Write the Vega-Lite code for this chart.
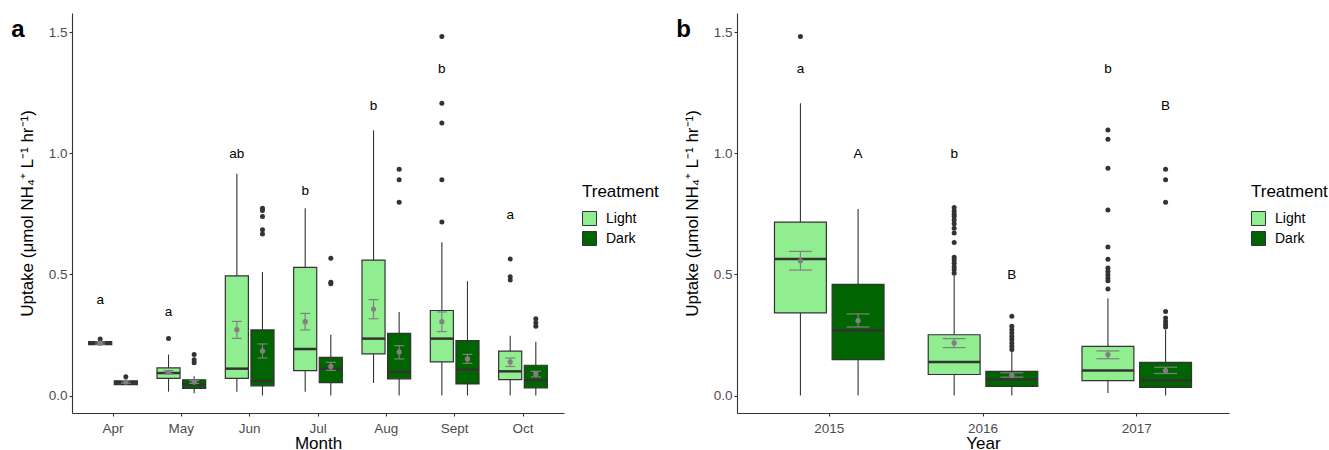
{
  "$schema": "https://vega.github.io/schema/vega-lite/v6.json",
  "background": "white",
  "padding": {"left": 11, "top": 13, "right": 0, "bottom": 0},
  "datasets": {
    "boxA": [
      {"Month": "Apr", "Treatment": "Light", "lower": 0.210, "q1": 0.210, "median": 0.217, "q3": 0.223, "upper": 0.223, "mean": 0.216, "se_lo": 0.212, "se_hi": 0.221},
      {"Month": "Apr", "Treatment": "Dark", "lower": 0.045, "q1": 0.045, "median": 0.055, "q3": 0.061, "upper": 0.061, "mean": 0.056, "se_lo": 0.051, "se_hi": 0.062},
      {"Month": "May", "Treatment": "Light", "lower": 0.016, "q1": 0.071, "median": 0.093, "q3": 0.114, "upper": 0.169, "mean": 0.096, "se_lo": 0.089, "se_hi": 0.103},
      {"Month": "May", "Treatment": "Dark", "lower": 0.010, "q1": 0.030, "median": 0.045, "q3": 0.065, "upper": 0.080, "mean": 0.056, "se_lo": 0.050, "se_hi": 0.062},
      {"Month": "Jun", "Treatment": "Light", "lower": 0.016, "q1": 0.071, "median": 0.111, "q3": 0.494, "upper": 0.915, "mean": 0.272, "se_lo": 0.236, "se_hi": 0.306},
      {"Month": "Jun", "Treatment": "Dark", "lower": 0.000, "q1": 0.040, "median": 0.060, "q3": 0.271, "upper": 0.510, "mean": 0.184, "se_lo": 0.155, "se_hi": 0.213},
      {"Month": "Jul", "Treatment": "Light", "lower": 0.016, "q1": 0.103, "median": 0.192, "q3": 0.529, "upper": 0.773, "mean": 0.305, "se_lo": 0.271, "se_hi": 0.339},
      {"Month": "Jul", "Treatment": "Dark", "lower": 0.000, "q1": 0.053, "median": 0.111, "q3": 0.158, "upper": 0.251, "mean": 0.120, "se_lo": 0.104, "se_hi": 0.137},
      {"Month": "Aug", "Treatment": "Light", "lower": 0.052, "q1": 0.172, "median": 0.235, "q3": 0.559, "upper": 1.095, "mean": 0.357, "se_lo": 0.317, "se_hi": 0.396},
      {"Month": "Aug", "Treatment": "Dark", "lower": 0.000, "q1": 0.069, "median": 0.098, "q3": 0.257, "upper": 0.345, "mean": 0.180, "se_lo": 0.151, "se_hi": 0.206},
      {"Month": "Sept", "Treatment": "Light", "lower": 0.000, "q1": 0.139, "median": 0.235, "q3": 0.351, "upper": 0.633, "mean": 0.305, "se_lo": 0.264, "se_hi": 0.345},
      {"Month": "Sept", "Treatment": "Dark", "lower": 0.000, "q1": 0.048, "median": 0.107, "q3": 0.227, "upper": 0.472, "mean": 0.151, "se_lo": 0.133, "se_hi": 0.170},
      {"Month": "Oct", "Treatment": "Light", "lower": 0.000, "q1": 0.066, "median": 0.100, "q3": 0.183, "upper": 0.247, "mean": 0.139, "se_lo": 0.120, "se_hi": 0.155},
      {"Month": "Oct", "Treatment": "Dark", "lower": 0.000, "q1": 0.032, "median": 0.063, "q3": 0.125, "upper": 0.222, "mean": 0.089, "se_lo": 0.077, "se_hi": 0.100}
    ],
    "outA": [
      {"Month": "Apr", "Treatment": "Light", "value": 0.233},
      {"Month": "Apr", "Treatment": "Dark", "value": 0.078},
      {"Month": "May", "Treatment": "Light", "value": 0.235},
      {"Month": "May", "Treatment": "Dark", "value": 0.169},
      {"Month": "May", "Treatment": "Dark", "value": 0.148},
      {"Month": "May", "Treatment": "Dark", "value": 0.135},
      {"Month": "Jun", "Treatment": "Dark", "value": 0.773},
      {"Month": "Jun", "Treatment": "Dark", "value": 0.764},
      {"Month": "Jun", "Treatment": "Dark", "value": 0.739},
      {"Month": "Jun", "Treatment": "Dark", "value": 0.684},
      {"Month": "Jun", "Treatment": "Dark", "value": 0.667},
      {"Month": "Jul", "Treatment": "Dark", "value": 0.567},
      {"Month": "Jul", "Treatment": "Dark", "value": 0.468},
      {"Month": "Jul", "Treatment": "Dark", "value": 0.461},
      {"Month": "Aug", "Treatment": "Dark", "value": 0.934},
      {"Month": "Aug", "Treatment": "Dark", "value": 0.891},
      {"Month": "Aug", "Treatment": "Dark", "value": 0.798},
      {"Month": "Sept", "Treatment": "Light", "value": 1.482},
      {"Month": "Sept", "Treatment": "Light", "value": 1.207},
      {"Month": "Sept", "Treatment": "Light", "value": 1.125},
      {"Month": "Sept", "Treatment": "Light", "value": 0.891},
      {"Month": "Sept", "Treatment": "Light", "value": 0.716},
      {"Month": "Oct", "Treatment": "Light", "value": 0.564},
      {"Month": "Oct", "Treatment": "Light", "value": 0.490},
      {"Month": "Oct", "Treatment": "Light", "value": 0.477},
      {"Month": "Oct", "Treatment": "Dark", "value": 0.317},
      {"Month": "Oct", "Treatment": "Dark", "value": 0.300},
      {"Month": "Oct", "Treatment": "Dark", "value": 0.286}
    ],
    "lettersA": [
      {"Month": "Apr", "Treatment": "Light", "pos": 0.396, "label": "a"},
      {"Month": "May", "Treatment": "Light", "pos": 0.345, "label": "a"},
      {"Month": "Jun", "Treatment": "Light", "pos": 0.998, "label": "ab"},
      {"Month": "Jul", "Treatment": "Light", "pos": 0.844, "label": "b"},
      {"Month": "Aug", "Treatment": "Light", "pos": 1.195, "label": "b"},
      {"Month": "Sept", "Treatment": "Light", "pos": 1.346, "label": "b"},
      {"Month": "Oct", "Treatment": "Light", "pos": 0.746, "label": "a"}
    ],
    "boxB": [
      {"Year": "2015", "Treatment": "Light", "lower": 0.000, "q1": 0.341, "median": 0.564, "q3": 0.716, "upper": 1.206, "mean": 0.556, "se_lo": 0.518, "se_hi": 0.595},
      {"Year": "2015", "Treatment": "Dark", "lower": 0.000, "q1": 0.148, "median": 0.269, "q3": 0.459, "upper": 0.770, "mean": 0.309, "se_lo": 0.283, "se_hi": 0.337},
      {"Year": "2016", "Treatment": "Light", "lower": 0.000, "q1": 0.087, "median": 0.139, "q3": 0.251, "upper": 0.495, "mean": 0.217, "se_lo": 0.198, "se_hi": 0.235},
      {"Year": "2016", "Treatment": "Dark", "lower": 0.000, "q1": 0.038, "median": 0.066, "q3": 0.100, "upper": 0.183, "mean": 0.084, "se_lo": 0.076, "se_hi": 0.094},
      {"Year": "2017", "Treatment": "Light", "lower": 0.011, "q1": 0.062, "median": 0.103, "q3": 0.203, "upper": 0.402, "mean": 0.169, "se_lo": 0.152, "se_hi": 0.184},
      {"Year": "2017", "Treatment": "Dark", "lower": 0.000, "q1": 0.034, "median": 0.063, "q3": 0.137, "upper": 0.272, "mean": 0.103, "se_lo": 0.091, "se_hi": 0.117}
    ],
    "outB": [
      {"Year": "2015", "Treatment": "Light", "value": 1.482},
      {"Year": "2016", "Treatment": "Light", "value": 0.776},
      {"Year": "2016", "Treatment": "Light", "value": 0.762},
      {"Year": "2016", "Treatment": "Light", "value": 0.748},
      {"Year": "2016", "Treatment": "Light", "value": 0.739},
      {"Year": "2016", "Treatment": "Light", "value": 0.725},
      {"Year": "2016", "Treatment": "Light", "value": 0.709},
      {"Year": "2016", "Treatment": "Light", "value": 0.691},
      {"Year": "2016", "Treatment": "Light", "value": 0.671},
      {"Year": "2016", "Treatment": "Light", "value": 0.632},
      {"Year": "2016", "Treatment": "Light", "value": 0.571},
      {"Year": "2016", "Treatment": "Light", "value": 0.560},
      {"Year": "2016", "Treatment": "Light", "value": 0.546},
      {"Year": "2016", "Treatment": "Light", "value": 0.532},
      {"Year": "2016", "Treatment": "Light", "value": 0.519},
      {"Year": "2016", "Treatment": "Light", "value": 0.505},
      {"Year": "2016", "Treatment": "Dark", "value": 0.327},
      {"Year": "2016", "Treatment": "Dark", "value": 0.286},
      {"Year": "2016", "Treatment": "Dark", "value": 0.272},
      {"Year": "2016", "Treatment": "Dark", "value": 0.258},
      {"Year": "2016", "Treatment": "Dark", "value": 0.244},
      {"Year": "2016", "Treatment": "Dark", "value": 0.231},
      {"Year": "2016", "Treatment": "Dark", "value": 0.217},
      {"Year": "2016", "Treatment": "Dark", "value": 0.203},
      {"Year": "2016", "Treatment": "Dark", "value": 0.190},
      {"Year": "2017", "Treatment": "Light", "value": 1.096},
      {"Year": "2017", "Treatment": "Light", "value": 1.058},
      {"Year": "2017", "Treatment": "Light", "value": 0.938},
      {"Year": "2017", "Treatment": "Light", "value": 0.766},
      {"Year": "2017", "Treatment": "Light", "value": 0.613},
      {"Year": "2017", "Treatment": "Light", "value": 0.563},
      {"Year": "2017", "Treatment": "Light", "value": 0.526},
      {"Year": "2017", "Treatment": "Light", "value": 0.512},
      {"Year": "2017", "Treatment": "Light", "value": 0.499},
      {"Year": "2017", "Treatment": "Light", "value": 0.485},
      {"Year": "2017", "Treatment": "Light", "value": 0.474},
      {"Year": "2017", "Treatment": "Light", "value": 0.440},
      {"Year": "2017", "Treatment": "Dark", "value": 0.934},
      {"Year": "2017", "Treatment": "Dark", "value": 0.891},
      {"Year": "2017", "Treatment": "Dark", "value": 0.798},
      {"Year": "2017", "Treatment": "Dark", "value": 0.347},
      {"Year": "2017", "Treatment": "Dark", "value": 0.320},
      {"Year": "2017", "Treatment": "Dark", "value": 0.306},
      {"Year": "2017", "Treatment": "Dark", "value": 0.293},
      {"Year": "2017", "Treatment": "Dark", "value": 0.283}
    ],
    "lettersB": [
      {"Year": "2015", "Treatment": "Light", "pos": 1.346, "label": "a"},
      {"Year": "2015", "Treatment": "Dark", "pos": 0.997, "label": "A"},
      {"Year": "2016", "Treatment": "Light", "pos": 0.997, "label": "b"},
      {"Year": "2016", "Treatment": "Dark", "pos": 0.496, "label": "B"},
      {"Year": "2017", "Treatment": "Light", "pos": 1.346, "label": "b"},
      {"Year": "2017", "Treatment": "Dark", "pos": 1.195, "label": "B"}
    ]
  },
  "hconcat": [
    {
      "width": 492,
      "height": 400,
      "title": {"text": "a", "fontSize": 24, "fontWeight": "bold", "font": "Liberation Sans", "color": "black", "anchor": "start", "frame": "bounds", "offset": -48, "dx": -7, "baseline": "alphabetic"},
      "encoding": {
        "x": {"field": "Month", "type": "nominal", "sort": ["Apr", "May", "Jun", "Jul", "Aug", "Sept", "Oct"], "scale": {"paddingInner": 0.25, "paddingOuter": 0.225}, "axis": {"title": "Month", "labelAngle": 0}},
        "xOffset": {"field": "Treatment", "type": "nominal", "sort": ["Light", "Dark"], "scale": {"domain": ["Light", "Dark"], "paddingInner": 0.1, "paddingOuter": 0.05}}
      },
      "layer": [
        {"data": {"name": "boxA"}, "mark": {"type": "rule", "color": "#333333", "strokeWidth": 1.1},
         "encoding": {"y": {"field": "lower", "type": "quantitative", "scale": {"domain": [-0.072, 1.579], "nice": false, "zero": false}, "axis": {"title": "Uptake (μmol NH₄⁺ L⁻¹ hr⁻¹)", "values": [0, 0.5, 1, 1.5], "format": ".1f"}}, "y2": {"field": "upper"}}},
        {"data": {"name": "boxA"}, "mark": {"type": "bar", "stroke": "#333333", "strokeWidth": 1.2},
         "encoding": {"y": {"field": "q1", "type": "quantitative"}, "y2": {"field": "q3"},
           "color": {"field": "Treatment", "type": "nominal", "scale": {"domain": ["Light", "Dark"], "range": ["#90EE90", "#006400"]},
             "legend": {"orient": "none", "legendX": 510, "legendY": 171, "title": "Treatment"}}}},
        {"data": {"name": "boxA"}, "mark": {"type": "tick", "color": "#333333", "thickness": 2.5, "size": 23, "opacity": 1},
         "encoding": {"y": {"field": "median", "type": "quantitative"}}},
        {"data": {"name": "outA"}, "mark": {"type": "circle", "color": "#333333", "size": 25, "opacity": 1},
         "encoding": {"y": {"field": "value", "type": "quantitative"}}},
        {"data": {"name": "boxA"}, "mark": {"type": "rule", "color": "#808080", "strokeWidth": 1.2},
         "encoding": {"y": {"field": "se_lo", "type": "quantitative"}, "y2": {"field": "se_hi"}}},
        {"data": {"name": "boxA"}, "mark": {"type": "tick", "color": "#808080", "thickness": 1.2, "size": 10, "opacity": 1},
         "encoding": {"y": {"field": "se_lo", "type": "quantitative"}}},
        {"data": {"name": "boxA"}, "mark": {"type": "tick", "color": "#808080", "thickness": 1.2, "size": 10, "opacity": 1},
         "encoding": {"y": {"field": "se_hi", "type": "quantitative"}}},
        {"data": {"name": "boxA"}, "mark": {"type": "circle", "color": "#808080", "size": 28, "opacity": 1},
         "encoding": {"y": {"field": "mean", "type": "quantitative"}}},
        {"data": {"name": "lettersA"}, "mark": {"type": "text", "font": "Liberation Sans", "fontSize": 13.5, "color": "black", "baseline": "middle", "align": "center"},
         "encoding": {"y": {"field": "pos", "type": "quantitative"}, "text": {"field": "label"}}}
      ]
    },
    {
      "width": 492,
      "height": 400,
      "title": {"text": "b", "fontSize": 24, "fontWeight": "bold", "font": "Liberation Sans", "color": "black", "anchor": "start", "frame": "bounds", "offset": -48, "dx": -7, "baseline": "alphabetic"},
      "encoding": {
        "x": {"field": "Year", "type": "nominal", "sort": ["2015", "2016", "2017"], "scale": {"paddingInner": 0.25, "paddingOuter": 0.225}, "axis": {"title": "Year", "labelAngle": 0}},
        "xOffset": {"field": "Treatment", "type": "nominal", "sort": ["Light", "Dark"], "scale": {"domain": ["Light", "Dark"], "paddingInner": 0.1, "paddingOuter": 0.05}}
      },
      "layer": [
        {"data": {"name": "boxB"}, "mark": {"type": "rule", "color": "#333333", "strokeWidth": 1.1},
         "encoding": {"y": {"field": "lower", "type": "quantitative", "scale": {"domain": [-0.072, 1.579], "nice": false, "zero": false}, "axis": {"title": "Uptake (μmol NH₄⁺ L⁻¹ hr⁻¹)", "values": [0, 0.5, 1, 1.5], "format": ".1f"}}, "y2": {"field": "upper"}}},
        {"data": {"name": "boxB"}, "mark": {"type": "bar", "stroke": "#333333", "strokeWidth": 1.2},
         "encoding": {"y": {"field": "q1", "type": "quantitative"}, "y2": {"field": "q3"},
           "color": {"field": "Treatment", "type": "nominal", "scale": {"domain": ["Light", "Dark"], "range": ["#90EE90", "#006400"]},
             "legend": {"orient": "none", "legendX": 514, "legendY": 171, "title": "Treatment"}}}},
        {"data": {"name": "boxB"}, "mark": {"type": "tick", "color": "#333333", "thickness": 2.5, "size": 52, "opacity": 1},
         "encoding": {"y": {"field": "median", "type": "quantitative"}}},
        {"data": {"name": "outB"}, "mark": {"type": "circle", "color": "#333333", "size": 25, "opacity": 1},
         "encoding": {"y": {"field": "value", "type": "quantitative"}}},
        {"data": {"name": "boxB"}, "mark": {"type": "rule", "color": "#808080", "strokeWidth": 1.2},
         "encoding": {"y": {"field": "se_lo", "type": "quantitative"}, "y2": {"field": "se_hi"}}},
        {"data": {"name": "boxB"}, "mark": {"type": "tick", "color": "#808080", "thickness": 1.2, "size": 23, "opacity": 1},
         "encoding": {"y": {"field": "se_lo", "type": "quantitative"}}},
        {"data": {"name": "boxB"}, "mark": {"type": "tick", "color": "#808080", "thickness": 1.2, "size": 23, "opacity": 1},
         "encoding": {"y": {"field": "se_hi", "type": "quantitative"}}},
        {"data": {"name": "boxB"}, "mark": {"type": "circle", "color": "#808080", "size": 28, "opacity": 1},
         "encoding": {"y": {"field": "mean", "type": "quantitative"}}},
        {"data": {"name": "lettersB"}, "mark": {"type": "text", "font": "Liberation Sans", "fontSize": 13.5, "color": "black", "baseline": "middle", "align": "center"},
         "encoding": {"y": {"field": "pos", "type": "quantitative"}, "text": {"field": "label"}}}
      ]
    }
  ],
  "spacing": 17,
  "resolve": {"scale": {"color": "independent", "xOffset": "independent", "x": "independent", "y": "independent"}, "legend": {"color": "independent"}},
  "config": {
    "view": {"stroke": null},
    "font": "Liberation Sans",
    "axis": {"grid": false, "labelFont": "Liberation Sans", "labelFontSize": 13.5, "labelColor": "#4d4d4d", "titleFont": "Liberation Sans", "titleFontSize": 17, "titleFontWeight": "normal", "titleColor": "black", "domainColor": "#333333", "domainWidth": 1.1, "tickColor": "#333333", "tickSize": 3, "tickWidth": 1.1, "labelPadding": 2},
    "axisX": {"titlePadding": 1, "labelPadding": 5},
    "axisY": {"titlePadding": 12},
    "legend": {"titleFont": "Liberation Sans", "titleFontSize": 17, "titleFontWeight": "normal", "titleColor": "black", "labelFont": "Liberation Sans", "labelFontSize": 14, "labelColor": "black", "labelOffset": 9, "symbolType": "square", "symbolSize": 196, "symbolStrokeColor": "#333333", "symbolStrokeWidth": 1, "rowPadding": 1, "padding": 0, "titlePadding": 10}
  }
}
